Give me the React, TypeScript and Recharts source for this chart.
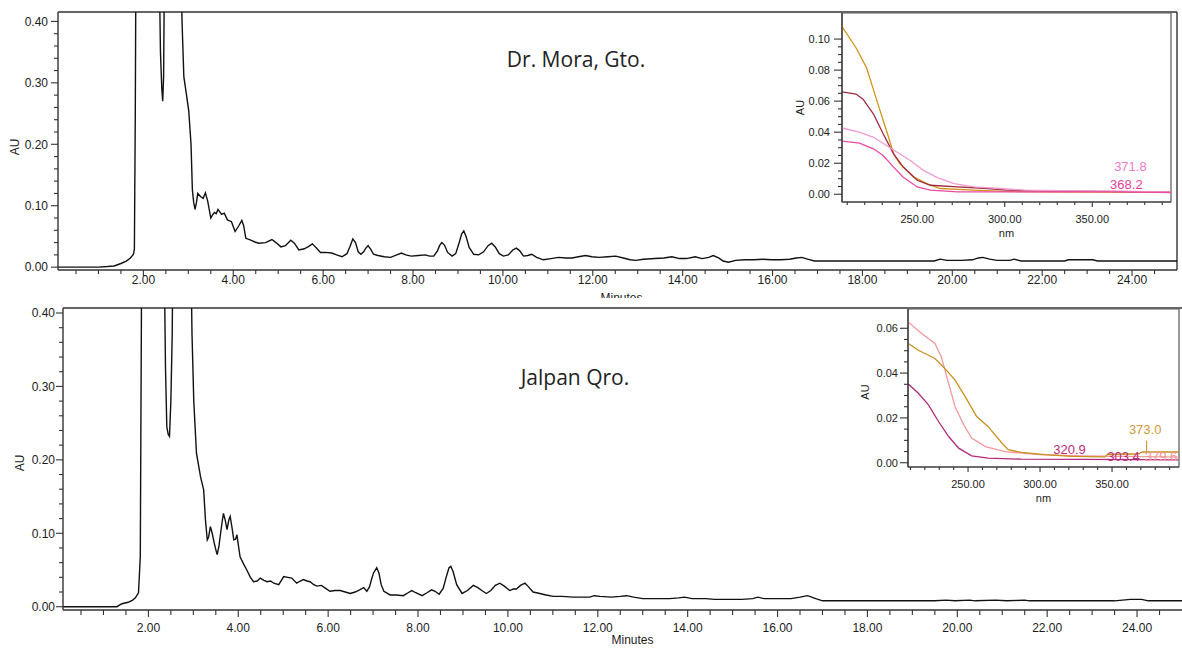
import React from 'react'
import {
  LineChart,
  Line,
  XAxis,
  YAxis,
  Label,
  ReferenceArea,
  ReferenceDot,
  ReferenceLine,
} from 'recharts'

type Pt = [number, number]

// Chromatogram, Dr. Mora, Gto. (minutes, AU). Values of 0.6 are off scale (clipped at the top)
const moraTrace: Pt[] = [
  [0.1, 0], [0.6, 0], [1.0, 0], [1.2, 0.001], [1.35, 0.002], [1.5, 0.006], [1.62, 0.01], [1.71, 0.015],
  [1.78, 0.021], [1.8, 0.03], [1.82, 0.25], [1.84, 0.6], [2.33, 0.6], [2.38, 0.35], [2.41, 0.29],
  [2.43, 0.27], [2.45, 0.31], [2.48, 0.6], [2.82, 0.6], [2.86, 0.4], [2.9, 0.31], [2.96, 0.28],
  [3.01, 0.254], [3.06, 0.2], [3.09, 0.126], [3.12, 0.105], [3.15, 0.094], [3.18, 0.105], [3.21, 0.12],
  [3.27, 0.115], [3.33, 0.112], [3.38, 0.121], [3.43, 0.108], [3.5, 0.08], [3.54, 0.085], [3.58, 0.089],
  [3.62, 0.087], [3.66, 0.094], [3.74, 0.086], [3.8, 0.088], [3.87, 0.077], [3.96, 0.074], [4.04, 0.058],
  [4.12, 0.067], [4.19, 0.076], [4.23, 0.068], [4.28, 0.047], [4.39, 0.044], [4.48, 0.041], [4.57, 0.039],
  [4.72, 0.04], [4.86, 0.045], [4.95, 0.04], [5.06, 0.033], [5.16, 0.035], [5.28, 0.044], [5.36, 0.039],
  [5.46, 0.028], [5.58, 0.03], [5.68, 0.034], [5.76, 0.038], [5.84, 0.032], [5.94, 0.024], [6.05, 0.024],
  [6.19, 0.023], [6.3, 0.02], [6.42, 0.017], [6.53, 0.022], [6.6, 0.034], [6.66, 0.046], [6.72, 0.04],
  [6.78, 0.025], [6.84, 0.021], [6.9, 0.025], [6.95, 0.031], [7.0, 0.035], [7.06, 0.029], [7.12, 0.021],
  [7.22, 0.019], [7.36, 0.017], [7.5, 0.016], [7.64, 0.02], [7.74, 0.023], [7.84, 0.02], [7.96, 0.018],
  [8.12, 0.019], [8.27, 0.02], [8.37, 0.018], [8.46, 0.018], [8.54, 0.026], [8.59, 0.035], [8.64, 0.04],
  [8.7, 0.036], [8.77, 0.024], [8.87, 0.018], [8.95, 0.022], [9.02, 0.038], [9.08, 0.054], [9.13, 0.059],
  [9.18, 0.05], [9.25, 0.032], [9.35, 0.021], [9.46, 0.02], [9.57, 0.025], [9.67, 0.035], [9.75, 0.039],
  [9.83, 0.033], [9.92, 0.022], [10.01, 0.018], [10.12, 0.02], [10.22, 0.028], [10.3, 0.031], [10.37, 0.027],
  [10.46, 0.018], [10.55, 0.019], [10.64, 0.021], [10.75, 0.016], [10.9, 0.012], [11.07, 0.014],
  [11.24, 0.016], [11.4, 0.015], [11.54, 0.015], [11.68, 0.017], [11.84, 0.019], [11.98, 0.017],
  [12.14, 0.016], [12.33, 0.017], [12.51, 0.018], [12.68, 0.015], [12.83, 0.012], [12.95, 0.011],
  [13.13, 0.013], [13.38, 0.014], [13.58, 0.015], [13.76, 0.017], [13.93, 0.014], [14.08, 0.014],
  [14.28, 0.017], [14.43, 0.014], [14.58, 0.016], [14.68, 0.019], [14.8, 0.015], [14.9, 0.01],
  [15.02, 0.008], [15.18, 0.011], [15.38, 0.012], [15.58, 0.012], [15.78, 0.013], [15.98, 0.012],
  [16.18, 0.012], [16.38, 0.013], [16.53, 0.015], [16.65, 0.016], [16.78, 0.013], [16.93, 0.01],
  [17.2, 0.01], [17.6, 0.01], [18.0, 0.01], [18.4, 0.01], [18.8, 0.01], [19.2, 0.01], [19.6, 0.01],
  [19.73, 0.013], [19.88, 0.011], [20.2, 0.011], [20.45, 0.012], [20.58, 0.015], [20.68, 0.016],
  [20.83, 0.013], [21.0, 0.011], [21.28, 0.011], [21.38, 0.013], [21.53, 0.01], [21.8, 0.01], [22.2, 0.01],
  [22.5, 0.01], [22.58, 0.012], [22.9, 0.012], [23.13, 0.012], [23.23, 0.01], [23.6, 0.01], [24.0, 0.01],
  [24.4, 0.01], [25.0, 0.01],
]

// Chromatogram, Jalpan Qro.
const jalpanTrace: Pt[] = [
  [0.1, 0], [0.8, 0], [1.3, 0], [1.41, 0.004], [1.55, 0.006], [1.65, 0.009], [1.71, 0.012], [1.78, 0.019],
  [1.82, 0.068], [1.86, 0.6], [2.33, 0.6], [2.38, 0.327], [2.41, 0.245], [2.44, 0.235], [2.47, 0.232],
  [2.5, 0.28], [2.53, 0.37], [2.56, 0.6], [2.92, 0.6], [2.97, 0.373], [3.01, 0.28], [3.07, 0.209],
  [3.16, 0.177], [3.23, 0.159], [3.27, 0.118], [3.31, 0.091], [3.34, 0.095], [3.38, 0.109], [3.42, 0.1],
  [3.45, 0.091], [3.49, 0.08], [3.53, 0.071], [3.57, 0.082], [3.6, 0.097], [3.64, 0.115], [3.67, 0.127],
  [3.71, 0.118], [3.75, 0.105], [3.79, 0.118], [3.82, 0.123], [3.86, 0.108], [3.9, 0.091], [3.94, 0.092],
  [3.97, 0.098], [4.0, 0.085], [4.04, 0.068], [4.12, 0.058], [4.19, 0.05], [4.27, 0.04], [4.34, 0.034],
  [4.42, 0.035], [4.49, 0.039], [4.57, 0.036], [4.64, 0.034], [4.72, 0.035], [4.79, 0.032], [4.9, 0.03],
  [4.96, 0.036], [5.01, 0.041], [5.1, 0.04], [5.19, 0.039], [5.3, 0.032], [5.38, 0.035], [5.45, 0.037],
  [5.53, 0.035], [5.6, 0.034], [5.68, 0.03], [5.75, 0.028], [5.85, 0.029], [5.92, 0.026], [6.04, 0.021],
  [6.15, 0.022], [6.27, 0.022], [6.38, 0.02], [6.49, 0.018], [6.6, 0.02], [6.7, 0.023], [6.79, 0.026],
  [6.86, 0.021], [6.92, 0.027], [6.97, 0.038], [7.01, 0.046], [7.08, 0.053], [7.13, 0.046], [7.18, 0.03],
  [7.24, 0.021], [7.38, 0.016], [7.52, 0.016], [7.67, 0.015], [7.78, 0.019], [7.86, 0.022], [7.95, 0.019],
  [8.09, 0.015], [8.2, 0.019], [8.3, 0.023], [8.38, 0.021], [8.47, 0.017], [8.56, 0.025], [8.63, 0.041],
  [8.69, 0.053], [8.73, 0.055], [8.78, 0.048], [8.86, 0.03], [8.98, 0.018], [9.1, 0.022], [9.23, 0.029],
  [9.33, 0.026], [9.42, 0.022], [9.52, 0.018], [9.62, 0.022], [9.72, 0.029], [9.82, 0.032], [9.92, 0.028],
  [10.04, 0.022], [10.12, 0.024], [10.19, 0.024], [10.28, 0.029], [10.38, 0.032], [10.46, 0.027],
  [10.56, 0.02], [10.71, 0.018], [10.85, 0.016], [11.01, 0.014], [11.2, 0.014], [11.45, 0.013],
  [11.65, 0.013], [11.82, 0.013], [11.92, 0.015], [12.05, 0.014], [12.3, 0.013], [12.5, 0.014],
  [12.64, 0.015], [12.8, 0.013], [13.0, 0.011], [13.3, 0.011], [13.6, 0.011], [13.8, 0.012], [13.93, 0.013],
  [14.1, 0.011], [14.4, 0.011], [14.6, 0.01], [14.9, 0.01], [15.2, 0.01], [15.45, 0.011], [15.56, 0.013],
  [15.7, 0.011], [16.0, 0.011], [16.3, 0.011], [16.5, 0.013], [16.67, 0.015], [16.85, 0.011], [17.0, 0.008],
  [17.5, 0.008], [18.0, 0.008], [18.5, 0.008], [19.0, 0.008], [19.5, 0.008], [19.75, 0.009], [19.95, 0.008],
  [20.27, 0.009], [20.4, 0.008], [20.85, 0.009], [21.1, 0.008], [21.5, 0.009], [21.6, 0.008], [22.0, 0.008],
  [22.5, 0.008], [23.0, 0.008], [23.5, 0.008], [23.85, 0.01], [24.1, 0.01], [24.25, 0.008], [25.0, 0.008],
]

// UV spectra, Dr. Mora inset (nm, AU)
const moraOrange: Pt[] = [
  [207, 0.108], [215, 0.0944], [221, 0.0816], [227, 0.06], [233, 0.039], [236.5, 0.026], [240, 0.0197],
  [248, 0.011], [255.5, 0.0069], [263, 0.0037], [282, 0.0026], [300, 0.0018], [320, 0.0015], [350, 0.0013],
  [375, 0.0012], [395, 0.0012],
]
const moraDarkRed: Pt[] = [
  [207, 0.066], [215, 0.0646], [219, 0.0613], [225, 0.0517], [230.5, 0.039], [236.5, 0.026], [242, 0.0175],
  [250, 0.009], [257.5, 0.0058], [273, 0.0047], [290, 0.0037], [301.5, 0.0026], [330, 0.002], [360, 0.0018],
  [395, 0.0015],
]
const moraLightPink: Pt[] = [
  [207, 0.0427], [217, 0.04], [225, 0.0367], [232.5, 0.0314], [238.5, 0.0271], [246, 0.0218],
  [253.5, 0.0154], [261.5, 0.0107], [271, 0.0069], [282.5, 0.0047], [297.5, 0.0037], [311, 0.0026],
  [350, 0.002], [395, 0.0015],
]
const moraPink: Pt[] = [
  [207, 0.0342], [217, 0.0329], [225, 0.0293], [230.5, 0.025], [236.5, 0.0175], [242, 0.011], [250, 0.0047],
  [257.5, 0.0026], [273, 0.0015], [330, 0.0015], [365, 0.0015], [395, 0.001],
]

// UV spectra, Jalpan inset
const jalpanSalmon: Pt[] = [
  [208.5, 0.0628], [218, 0.0576], [227, 0.0532], [231.5, 0.0472], [236.5, 0.0354], [241, 0.025],
  [247, 0.0169], [252.5, 0.011], [262, 0.0072], [275.5, 0.005], [299, 0.0036], [330, 0.003], [360, 0.0028],
  [396, 0.0025],
]
const jalpanOrange: Pt[] = [
  [208.5, 0.0532], [215.5, 0.0502], [227, 0.0465], [234, 0.042], [241, 0.0369], [248, 0.0295], [256, 0.0206],
  [264, 0.0161], [273.5, 0.0088], [278, 0.0058], [287, 0.0046], [303.5, 0.0036], [322, 0.0028], [345, 0.0026],
  [347, 0.0038], [368, 0.0039], [371, 0.0048], [396, 0.0048],
]
const jalpanMagenta: Pt[] = [
  [208.5, 0.0351], [215.5, 0.031], [222.5, 0.0258], [229.5, 0.0184], [236.5, 0.0117], [243.5, 0.0065],
  [252.5, 0.0031], [264, 0.0021], [287, 0.0016], [330, 0.0015], [396, 0.0013],
]

// peak tags written on the spectra
const moraTags = [
  { text: '371.8', nm: 371.8, au: 0.018, color: '#f27cc6' },
  { text: '368.2', nm: 369.5, au: 0.0064, color: '#e53d9c' },
]
const jalpanTags = [
  { text: '320.9', nm: 320.5, au: 0.0061, color: '#b82a7c' },
  { text: '373.0', nm: 373, au: 0.015, color: '#d39a3c' },
  { text: '303.4', nm: 358, au: 0.003, color: '#b82a7c' },
  { text: '379.6', nm: 384, au: 0.003, color: '#f2949a' },
]

// axes
const minuteLabels = [2, 4, 6, 8, 10, 12, 14, 16, 18, 20, 22, 24]
const auLabels = [0, 0.1, 0.2, 0.3, 0.4]
const nmLabels = [250, 300, 350]
const moraInsetLabels = [0, 0.02, 0.04, 0.06, 0.08, 0.1]
const jalpanInsetLabels = [0, 0.02, 0.04, 0.06]

const steps = (from: number, to: number, step: number) => {
  const out: number[] = []
  for (let i = 0; from + i * step <= to + 1e-9; i++) out.push(+(from + i * step).toFixed(4))
  return out
}

const minuteTicks = steps(0.5, 24.5, 0.5)
const auTicks = steps(0, 0.4, 0.02)
const nmTicks = steps(210, 390, 10)

const AXIS = '#333'
const INK = '#1c1c1c'
const T_DOMAIN: [number, number] = [0.1, 25]

const rows = (pts: Pt[]) => pts.map(([x, y]) => ({ x, y }))
const isIn = (list: number[], v: number) => list.some((l) => Math.abs(l - v) < 1e-6)

const bottomTick =
  (labels: number[], digits: number, majorLen: number, minorLen: number, baseline: number, size: number) =>
  (p: any) => {
    const v = p.payload.value
    const major = isIn(labels, v)
    return (
      <g>
        <line x1={p.x} x2={p.x} y1={p.y} y2={p.y + (major ? majorLen : minorLen)} stroke={AXIS} strokeWidth={1.1} />
        {major && (
          <text x={p.x} y={p.y + baseline} textAnchor="middle" fontSize={size} fill={INK}>
            {v.toFixed(digits)}
          </text>
        )}
      </g>
    )
  }

const leftTick =
  (labels: number[], digits: number, majorLen: number, minorLen: number, gap: number, size: number) =>
  (p: any) => {
    const v = p.payload.value
    const major = isIn(labels, v)
    return (
      <g>
        <line x1={p.x - (major ? majorLen : minorLen)} x2={p.x} y1={p.y} y2={p.y} stroke={AXIS} strokeWidth={1.1} />
        {major && (
          <text x={p.x - gap} y={p.y} dy={size * 0.36} textAnchor="end" fontSize={size} fill={INK}>
            {v.toFixed(digits)}
          </text>
        )}
      </g>
    )
  }

// rotated "AU" title inside the y axis box
const sideTitle = (text: string, dx: number, dy: number, size: number) => (props: any) => {
  const { x, y, height } = props.viewBox
  const cx = x + dx
  const cy = y + height / 2 + dy
  return (
    <text x={cx} y={cy} transform={`rotate(-90 ${cx} ${cy})`} textAnchor="middle" dy={size * 0.36} fontSize={size} fill={INK}>
      {text}
    </text>
  )
}

// "Minutes" / "nm" title under the x axis
const underTitle = (text: string, dx: number, baseline: number, size: number) => (props: any) => {
  const { x, y, width } = props.viewBox
  return (
    <text x={x + width / 2 + dx} y={y + baseline} textAnchor="middle" fontSize={size} fill={INK}>
      {text}
    </text>
  )
}

function Chromatogram({
  trace, yDomain, width, height, marginTop, right, yWidth, xHeight, xBase, majorLen, minorLen, gap, minutesDx, minutesBase, auDx, auDy, rightBorder,
}: any) {
  return (
    <LineChart width={width} height={height} data={rows(trace)} margin={{ top: marginTop, right, left: 0, bottom: 0 }}>
      <XAxis
        dataKey="x"
        type="number"
        domain={T_DOMAIN}
        allowDataOverflow
        ticks={minuteTicks}
        interval={0}
        tickLine={false}
        tickSize={0}
        tickMargin={0}
        height={xHeight}
        axisLine={{ stroke: AXIS, strokeWidth: 1.4 }}
        tick={bottomTick(minuteLabels, 2, majorLen, minorLen, xBase, 12)}
      >
        <Label content={underTitle('Minutes', minutesDx, minutesBase, 12)} />
      </XAxis>
      <YAxis
        type="number"
        domain={yDomain}
        allowDataOverflow
        ticks={auTicks}
        interval={0}
        tickLine={false}
        tickSize={0}
        tickMargin={0}
        width={yWidth}
        axisLine={{ stroke: AXIS, strokeWidth: 1.4 }}
        tick={leftTick(auLabels, 2, 7, 4, gap, 12)}
      >
        <Label content={sideTitle('AU', auDx, auDy, 12)} />
      </YAxis>
      <ReferenceLine y={yDomain[1]} stroke={AXIS} strokeWidth={1.4} />
      {rightBorder && <ReferenceLine x={T_DOMAIN[1]} stroke={AXIS} strokeWidth={1.4} />}
      <Line dataKey="y" type="linear" stroke="#111" strokeWidth={1.4} dot={false} isAnimationActive={false} />
    </LineChart>
  )
}

function Spectrum({ series, tags, xDomain, yDomain, yLabels, width, height, right, yWidth, xHeight, gap, auDx, auDy, children }: any) {
  return (
    <LineChart width={width} height={height} margin={{ top: 0, right, left: 0, bottom: 0 }}>
      <XAxis
        dataKey="x"
        type="number"
        domain={xDomain}
        allowDataOverflow
        ticks={nmTicks}
        interval={0}
        tickLine={false}
        tickSize={0}
        tickMargin={0}
        height={xHeight}
        axisLine={{ stroke: AXIS, strokeWidth: 1.2 }}
        tick={bottomTick(nmLabels, 2, 5, 3, 21, 11)}
      >
        <Label content={underTitle('nm', 0, 35, 11)} />
      </XAxis>
      <YAxis
        type="number"
        domain={yDomain}
        allowDataOverflow
        ticks={steps(0, yLabels[yLabels.length - 1], 0.005)}
        interval={0}
        tickLine={false}
        tickSize={0}
        tickMargin={0}
        width={yWidth}
        axisLine={{ stroke: AXIS, strokeWidth: 1.2 }}
        tick={leftTick(yLabels, 2, 8, 4, gap, 11)}
      >
        <Label content={sideTitle('AU', auDx, auDy, 11)} />
      </YAxis>
      <ReferenceArea x1={xDomain[0]} x2={xDomain[1]} y1={yDomain[0]} y2={yDomain[1]} fill="none" stroke="#555" strokeWidth={1.2} />
      {series.map((s: any) => (
        <Line
          key={s.name}
          data={rows(s.pts)}
          dataKey="y"
          type="linear"
          stroke={s.color}
          strokeWidth={1.3}
          dot={false}
          isAnimationActive={false}
        />
      ))}
      {children}
      {tags.map((t: any) => (
        <ReferenceDot
          key={t.text}
          x={t.nm}
          y={t.au}
          r={0}
          fill="none"
          stroke="none"
          ifOverflow="visible"
          label={{ value: t.text, position: 'center', fill: t.color, fontSize: 13 }}
        />
      ))}
    </LineChart>
  )
}

const titleStyle: React.CSSProperties = {
  position: 'absolute',
  fontFamily: '"Open Sans", Lato, sans-serif',
  fontSize: 21,
  color: '#222',
  lineHeight: '24px',
  whiteSpace: 'nowrap',
  transform: 'translateX(-50%)',
}

export default function App() {
  return (
    <div
      style={{
        position: 'absolute',
        left: 0,
        top: 0,
        width: 1182,
        height: 649,
        overflow: 'hidden',
        background: '#fff',
        fontFamily: '"Liberation Sans", Arial, sans-serif',
      }}
    >
      <div style={{ position: 'absolute', left: 0, top: 0 }}>
        <Chromatogram
          trace={moraTrace}
          yDomain={[-0.0046, 0.4153]}
          width={1182}
          height={310}
          marginTop={12}
          right={5}
          yWidth={58}
          xHeight={40}
          xBase={13.5}
          majorLen={6}
          minorLen={4}
          gap={10}
          minutesDx={4}
          minutesBase={32}
          auDx={15}
          auDy={6}
          rightBorder
        />
      </div>
      <div style={{ ...titleStyle, left: 576, top: 47 }}>Dr. Mora, Gto.</div>

      <div style={{ position: 'absolute', left: 786, top: 13, background: '#fff' }}>
        <Spectrum
          series={[
            { name: 'orange', pts: moraOrange, color: '#d4941c' },
            { name: 'darkred', pts: moraDarkRed, color: '#9e2a3e' },
            { name: 'lightpink', pts: moraLightPink, color: '#f39ad0' },
            { name: 'pink', pts: moraPink, color: '#ea4aa6' },
          ]}
          tags={moraTags}
          xDomain={[207, 395]}
          yDomain={[-0.005, 0.1168]}
          yLabels={moraInsetLabels}
          width={390}
          height={231}
          right={5}
          yWidth={56}
          xHeight={42}
          gap={12}
          auDx={14}
          auDy={0}
        />
      </div>

      <div style={{ position: 'absolute', left: 0, top: 298, background: '#fff' }}>
        <Chromatogram
          trace={jalpanTrace}
          yDomain={[-0.0045, 0.4068]}
          width={1190}
          height={351}
          marginTop={10}
          right={8}
          yWidth={63}
          xHeight={39}
          xBase={21.5}
          majorLen={7}
          minorLen={5}
          gap={8}
          minutesDx={10}
          minutesBase={34}
          auDx={20}
          auDy={4}
        />
      </div>
      <div style={{ ...titleStyle, left: 575, top: 365 }}>Jalpan Qro.</div>

      <div style={{ position: 'absolute', left: 850, top: 309, background: '#fff' }}>
        <Spectrum
          series={[
            { name: 'salmon', pts: jalpanSalmon, color: '#f29a9c' },
            { name: 'orange', pts: jalpanOrange, color: '#c8901e' },
            { name: 'magenta', pts: jalpanMagenta, color: '#b02a7e' },
          ]}
          tags={jalpanTags}
          xDomain={[208.3, 396.5]}
          yDomain={[-0.0019, 0.0686]}
          yLabels={jalpanInsetLabels}
          width={332}
          height={203}
          right={3}
          yWidth={58}
          xHeight={45}
          gap={10}
          auDx={15}
          auDy={4}
        >
          <ReferenceLine
            segment={[
              { x: 374, y: 0.0048 },
              { x: 374, y: 0.0098 },
            ]}
            stroke="#d39a3c"
            strokeWidth={1.2}
          />
        </Spectrum>
      </div>
    </div>
  )
}
